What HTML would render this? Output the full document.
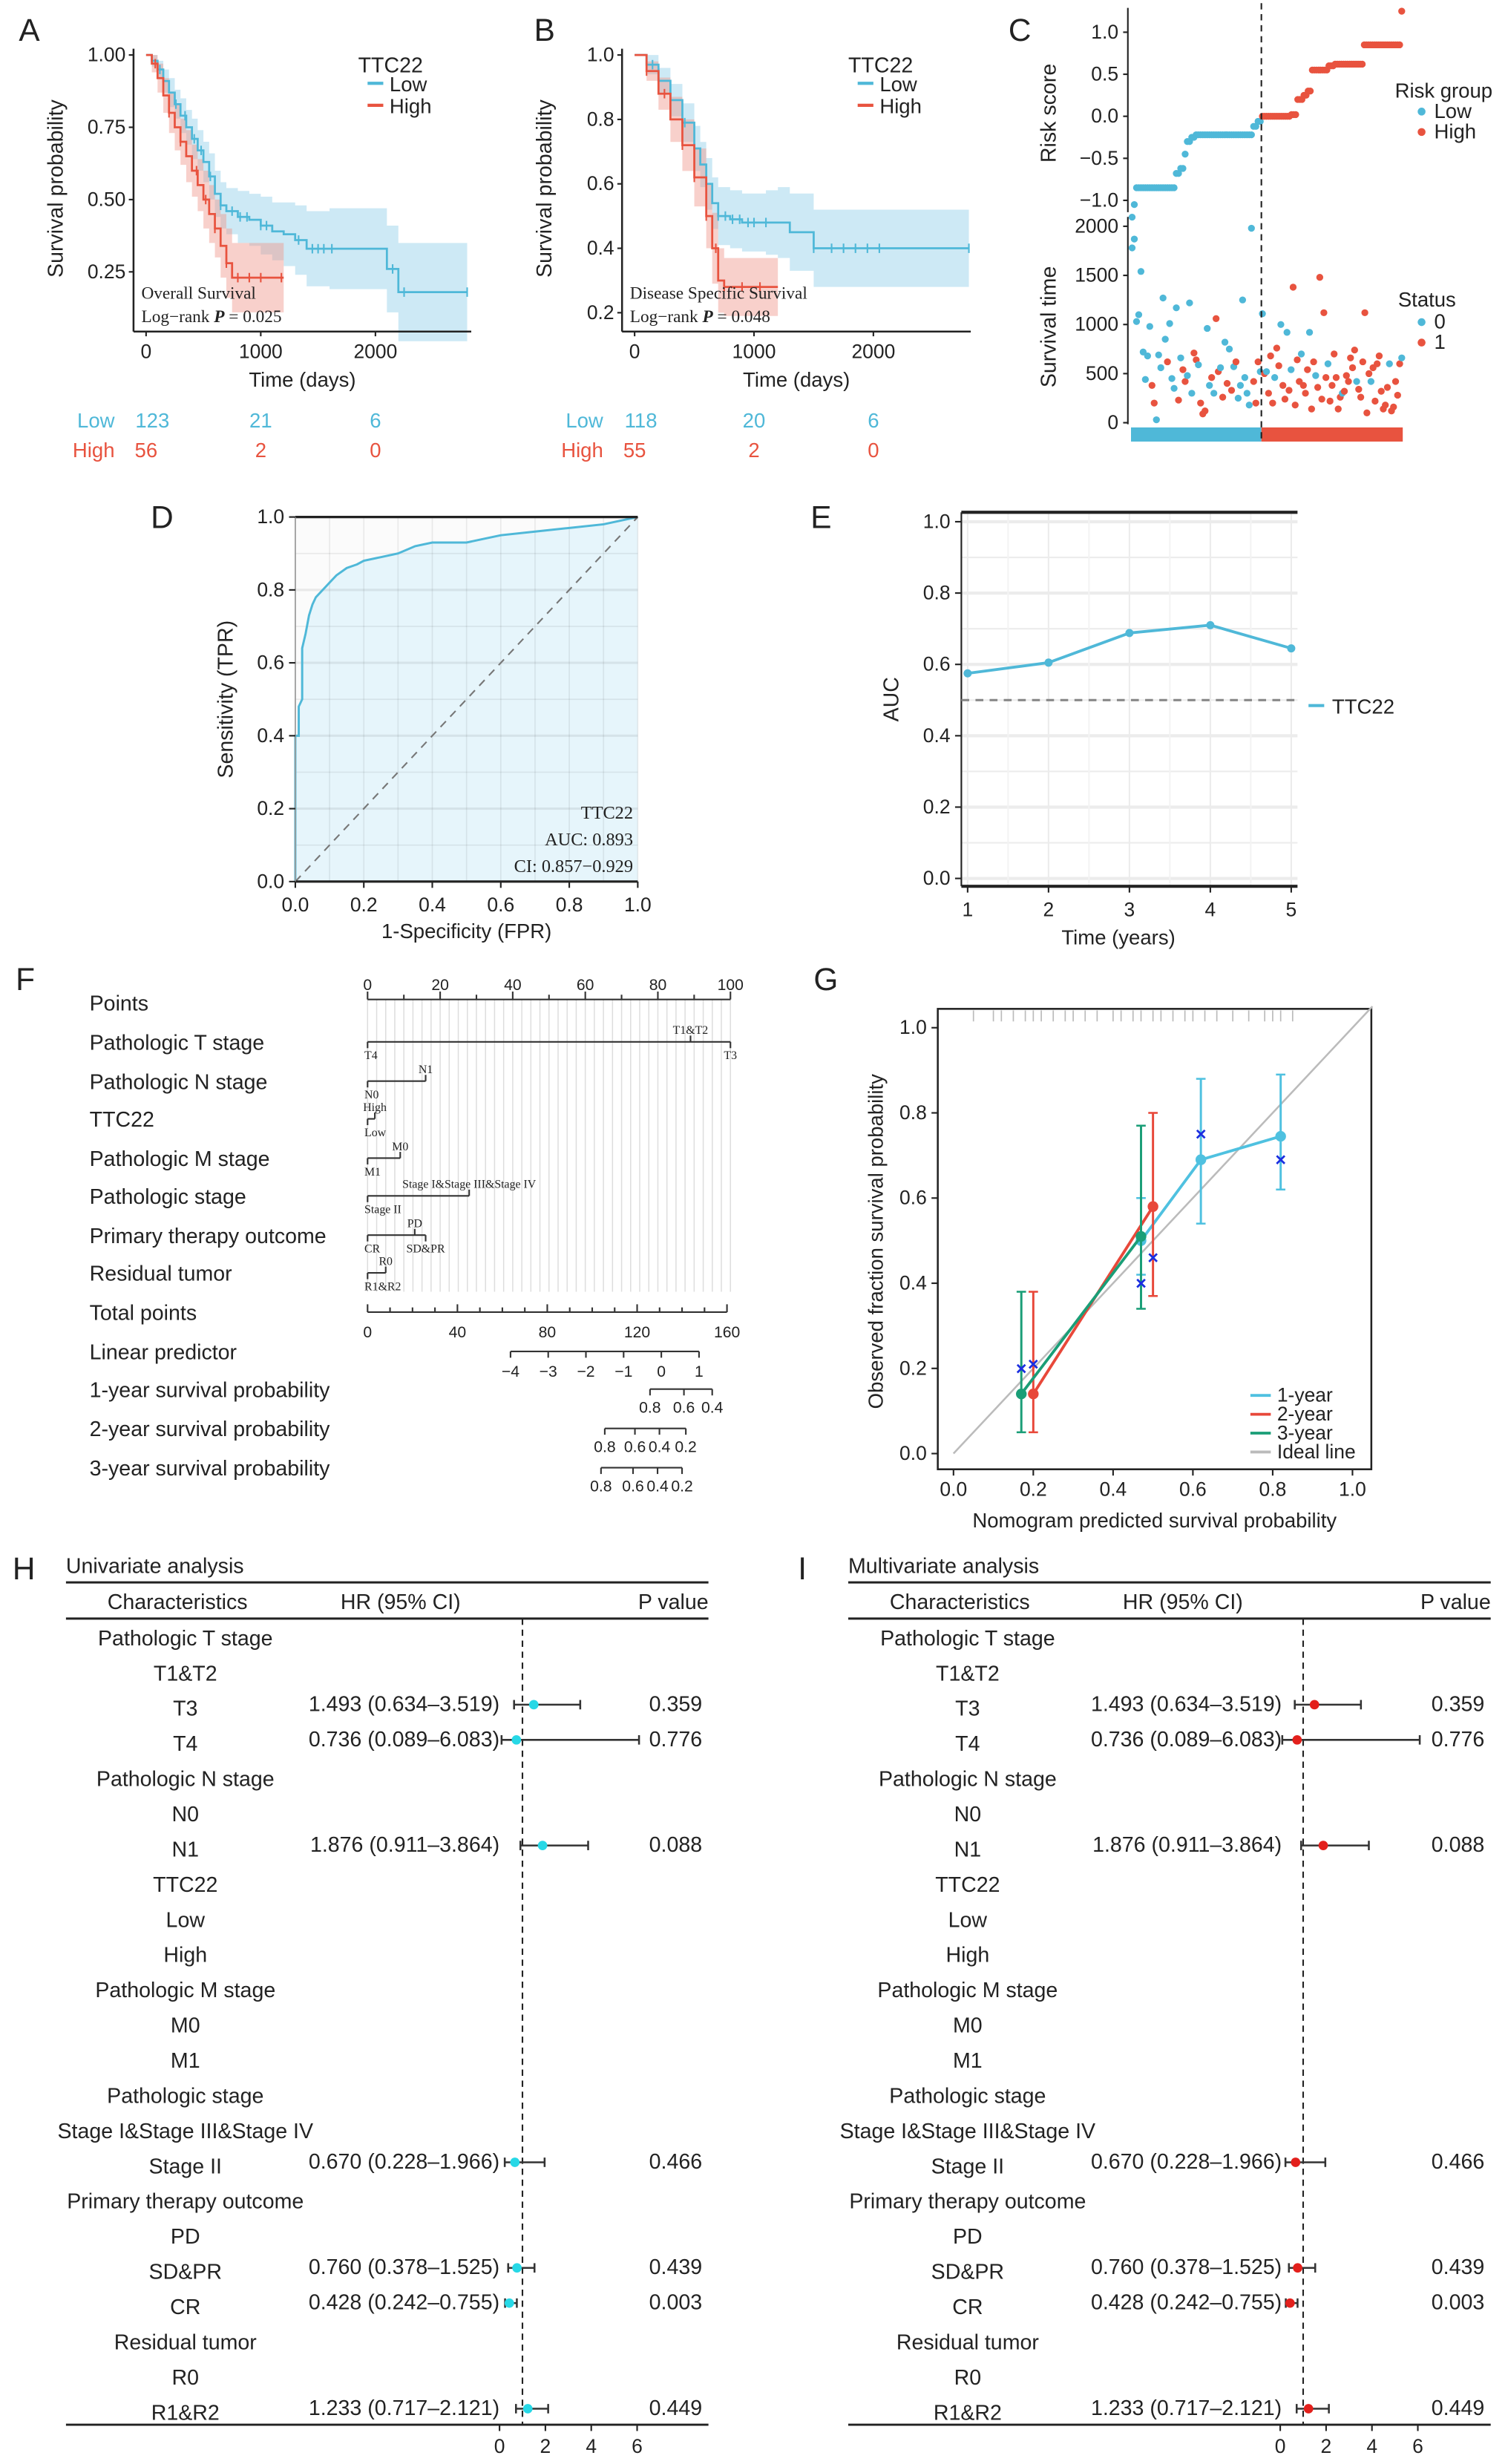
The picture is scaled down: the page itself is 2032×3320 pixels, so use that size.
<!DOCTYPE html>
<html><head><meta charset="utf-8">
<style>
html,body{margin:0;padding:0;background:#fff;}
svg{display:block;}
text{font-family:"Liberation Sans",sans-serif;}
.serif{font-family:"Liberation Serif",serif;}
</style></head>
<body>
<svg id="fig" xmlns="http://www.w3.org/2000/svg" width="2032" height="3320" viewBox="0 0 960 1568" preserveAspectRatio="none"></svg>
<script>
// ---------- DATA ----------
// Panel A (overall survival)
const kmA_lowT=[0,50,100,150,200,250,300,350,400,450,500,550,600,650,700,800,900,1000,1100,1200,1300,1400,1600,1800,2100,2200,2800];
const kmA_lowS=[1,.98,.95,.91,.87,.83,.79,.75,.71,.67,.63,.58,.52,.48,.46,.44,.43,.41,.39,.38,.36,.33,.33,.33,.26,.18,.18];
const kmA_lowH=[0,.02,.03,.04,.05,.05,.06,.06,.07,.07,.07,.08,.08,.08,.08,.09,.09,.1,.1,.11,.12,.13,.14,.14,.15,.17,.17];
const kmA_highT=[0,50,100,150,200,250,300,350,400,450,500,550,600,650,700,750,1200];
const kmA_highS=[1,.97,.92,.86,.8,.75,.7,.65,.6,.55,.5,.45,.4,.34,.28,.23,.23];
const kmA_highH=[0,.03,.05,.06,.07,.08,.08,.09,.09,.09,.1,.1,.1,.11,.12,.12,.12];
const cenA_low=[120,260,340,420,480,560,650,750,820,880,1000,1050,1330,1450,1500,1550,1620,2150,2250,2800];
const cenA_high=[80,200,300,440,520,600,700,800,900,1000,1180];
// Panel B (disease specific survival)
const kmB_lowT=[0,100,200,300,400,500,550,600,650,700,800,900,1000,1100,1200,1300,1500,2800];
const kmB_lowS=[1,.97,.92,.86,.79,.71,.66,.6,.54,.5,.49,.48,.48,.48,.48,.45,.40,.40];
const kmB_lowH=[0,.03,.04,.05,.06,.07,.07,.08,.08,.09,.09,.09,.09,.1,.11,.12,.12,.12];
const kmB_highT=[0,100,200,300,400,500,600,650,700,750,1200];
const kmB_highS=[1,.95,.88,.8,.72,.62,.5,.4,.3,.28,.28];
const kmB_highH=[0,.03,.05,.07,.08,.09,.1,.11,.1,.09,.09];
const cenB_low=[150,300,420,500,600,700,760,820,880,950,1000,1100,1500,1650,1750,1850,1950,2050,2800];
const cenB_high=[100,250,400,500,600,680,750,900,1050];
// Panel C risk score
const riskLowVals=[-1.2,-1.05,-0.85,-0.68,-0.62,-0.45,-0.3,-0.25,-0.22,-0.12,-0.06];
const riskLowCounts=[1,1,18,2,2,1,2,2,26,2,2];
const riskHighVals=[0.0,0.02,0.2,0.25,0.3,0.55,0.6,0.62,0.85,1.25];
const riskHighCounts=[14,3,3,2,2,8,3,14,18,1];
const survLowTimes=[1780,1870,1030,1100,1540,720,440,680,980,380,200,30,690,560,1270,850,620,1010,450,350,1170,230,660,540,420,480,1220,300,710,640,590,200,90,120,960,380,460,300,1060,520,560,260,820,400,750,330,570,620,250,380,1250,460,300,180,1980,420,200,620,520];
const survLowStatus=[0,0,0,0,0,0,0,0,0,1,1,0,0,0,0,0,1,0,0,0,0,1,0,1,1,0,0,0,1,1,0,1,1,1,0,0,1,0,1,1,0,1,0,1,0,1,0,1,0,0,0,0,0,0,0,1,1,1,0];
const survHighTimes=[1110,500,520,300,680,200,460,760,580,1000,380,240,920,330,540,1380,180,640,420,700,380,300,540,920,140,620,480,360,1480,240,1120,460,600,220,380,700,460,140,260,300,320,480,420,660,560,740,420,340,260,620,1120,100,500,420,560,220,600,680,320,140,180,360,600,120,160,420,280,600,660];
const survHighStatus=[0,1,0,1,1,1,0,1,1,0,1,1,0,1,0,1,1,1,1,0,1,1,1,0,1,1,0,1,1,1,1,1,0,1,1,1,1,1,1,0,1,1,1,1,1,1,0,1,1,1,1,1,1,0,1,1,1,1,1,1,1,1,0,1,1,1,1,1,0];
// Panel D ROC
const rocFpr=[0,0,0.01,0.01,0.02,0.02,0.03,0.04,0.05,0.06,0.08,0.1,0.12,0.15,0.18,0.2,0.25,0.3,0.35,0.4,0.5,0.55,0.6,0.7,0.8,0.9,1];
const rocTpr=[0,0.4,0.4,0.48,0.5,0.64,0.68,0.73,0.76,0.78,0.8,0.82,0.84,0.86,0.87,0.88,0.89,0.9,0.92,0.93,0.93,0.94,0.95,0.96,0.97,0.98,1];
// Panel E time-dependent AUC
const aucYears=[1,2,3,4,5];
const aucVals=[0.575,0.605,0.688,0.71,0.645];
// Panel G calibration
const cal1x=[0.47,0.62,0.82], cal1y=[0.50,0.69,0.745], cal1lo=[0.42,0.54,0.62], cal1hi=[0.60,0.88,0.89];
const cal2x=[0.20,0.50], cal2y=[0.14,0.58], cal2lo=[0.05,0.37], cal2hi=[0.38,0.80];
const cal3x=[0.17,0.47], cal3y=[0.14,0.51], cal3lo=[0.05,0.34], cal3hi=[0.38,0.77];
const calXx=[0.17,0.20,0.47,0.50,0.62,0.82], calXy=[0.20,0.21,0.40,0.46,0.75,0.69];
const rugX=[0.05,0.1,0.12,0.15,0.18,0.2,0.22,0.25,0.28,0.3,0.33,0.36,0.4,0.42,0.45,0.47,0.5,0.52,0.55,0.58,0.6,0.63,0.66,0.7,0.74,0.78,0.8,0.82,0.85];
// Forest plots
const forestLabels=["Pathologic T stage","T1&T2","T3","T4","Pathologic N stage","N0","N1","TTC22","Low","High","Pathologic M stage","M0","M1","Pathologic stage","Stage I&Stage III&Stage IV","Stage II","Primary therapy outcome","PD","SD&PR","CR","Residual tumor","R0","R1&R2"];
const forestHR=[null,null,1.493,0.736,null,null,1.876,null,null,null,null,null,null,null,null,0.670,null,null,0.760,0.428,null,null,1.233];
const forestLo=[null,null,0.634,0.089,null,null,0.911,null,null,null,null,null,null,null,null,0.228,null,null,0.378,0.242,null,null,0.717];
const forestHi=[null,null,3.519,6.083,null,null,3.864,null,null,null,null,null,null,null,null,1.966,null,null,1.525,0.755,null,null,2.121];
const forestP=[null,null,"0.359","0.776",null,null,"0.088",null,null,null,null,null,null,null,null,"0.466",null,null,"0.439","0.003",null,null,"0.449"];
const forestTicks=[0,2,4,6];

// ---------- HELPERS ----------
const NS='http://www.w3.org/2000/svg';
const svg=document.getElementById('fig');
function mk(tag,attrs,name,parent){
  const el=document.createElementNS(NS,tag);
  for(const k in attrs) el.setAttribute(k,attrs[k]);
  
  
  (parent||svg).appendChild(el);
  return el;
}
function T(x,y,s,size,name,opt){
  opt=opt||{};
  const a={x:x,y:y,'font-size':size,fill:opt.fill||'#222'};
  if(opt.anchor) a['text-anchor']=opt.anchor;
  if(opt.cls) a['class']=opt.cls;
  if(opt.rot) a.transform='rotate(-90 '+x+' '+y+')';
  if(opt.weight) a['font-weight']=opt.weight;
  if(opt.style) a['font-style']=opt.style;
  const el=mk('text',a,name);
  el.textContent=s;
  return el;
}
function L(x1,y1,x2,y2,stroke,w,name,dash){
  const a={x1:x1,y1:y1,x2:x2,y2:y2,stroke:stroke,'stroke-width':w};
  if(dash) a['stroke-dasharray']=dash;
  return mk('line',a,name);
}
const BLUE='#4fb8d8', RED='#e8533f';

// ---------- KM panels ----------
function kmPanel(p){
  const X=p.X,Y=p.Y;
  [[p.lowT,p.lowS,p.lowH,'#cde9f5','low'],[p.highT,p.highS,p.highH,'rgba(240,150,140,0.45)','high']].forEach(c=>{
    const t=c[0],s=c[1],h=c[2];
    let up='',dn='';
    for(let i=0;i<t.length;i++){
      const tn=i<t.length-1?t[i+1]:t[i];
      up+=(i?'L':'M')+X(t[i])+' '+Y(Math.min(1,s[i]+h[i]))+'L'+X(tn)+' '+Y(Math.min(1,s[i]+h[i]));
    }
    for(let i=t.length-1;i>=0;i--){
      const tn=i<t.length-1?t[i+1]:t[i];
      dn+='L'+X(tn)+' '+Y(s[i]-h[i])+'L'+X(t[i])+' '+Y(s[i]-h[i]);
    }
    mk('path',{d:up+dn+'Z',fill:c[3],stroke:'none'},p.id+'-ci-band-'+c[4]);
  });
  [[p.lowT,p.lowS,BLUE,'low',p.cenLow],[p.highT,p.highS,RED,'high',p.cenHigh]].forEach(c=>{
    const t=c[0],s=c[1];
    let d='M'+X(t[0])+' '+Y(s[0]);
    for(let i=1;i<t.length;i++) d+='H'+X(t[i])+'V'+Y(s[i]);
    mk('path',{d:d,fill:'none',stroke:c[2],'stroke-width':1.3},p.id+'-km-curve-'+c[3]);
    c[4].forEach(ct=>{
      let sv=s[0];
      for(let i=0;i<t.length;i++) if(t[i]<=ct) sv=s[i];
      L(X(ct),Y(sv)-3,X(ct),Y(sv)+3,c[2],1,p.id+'-censor-'+c[3]);
    });
  });
  L(p.ax,p.yTop-4,p.ax,p.xAxY,'#222',1.2,p.id+'-y-axis');
  L(p.ax,p.xAxY,p.axEnd,p.xAxY,'#222',1.2,p.id+'-x-axis');
  p.yt.forEach((v,i)=>{L(p.ax-3,Y(v),p.ax,Y(v),'#222',1,p.id+'-y-tick');T(p.ax-5,Y(v)+4,p.ytl[i],12.5,p.id+'-y-tick-label',{anchor:'end'});});
  [0,1000,2000].forEach(v=>{L(X(v),p.xAxY,X(v),p.xAxY+3,'#222',1,p.id+'-x-tick');T(X(v),p.xAxY+17,String(v),12.5,p.id+'-x-tick-label',{anchor:'middle'});});
  T((p.ax+p.axEnd)/2,p.xAxY+35,'Time (days)',13,p.id+'-x-axis-title',{anchor:'middle'});
  T(p.ax-45,120,'Survival probability',13.5,p.id+'-y-axis-title',{anchor:'middle',rot:1});
  T(p.legX,46,'TTC22',13.5,p.id+'-legend-title');
  L(p.legX+6,53,p.legX+16,53,BLUE,2,p.id+'-legend-key-low');T(p.legX+20,58,'Low',13,p.id+'-legend-low');
  L(p.legX+6,67,p.legX+16,67,RED,2,p.id+'-legend-key-high');T(p.legX+20,72,'High',13,p.id+'-legend-high');
  T(p.ax+5,190,p.title,11,p.id+'-annotation-title',{cls:'serif'});
  const g=T(p.ax+5,205,'Log\u2212rank ',11,p.id+'-annotation-pvalue',{cls:'serif'});
  const ts=document.createElementNS(NS,'tspan');ts.setAttribute('font-style','italic');ts.setAttribute('font-weight','bold');ts.textContent='P';g.appendChild(ts);
  g.appendChild(document.createTextNode(' = '+p.pval));
  T(p.ax-12,272,'Low',13,p.id+'-risk-table-low-label',{anchor:'end',fill:BLUE});
  T(p.ax-12,291,'High',13,p.id+'-risk-table-high-label',{anchor:'end',fill:RED});
  [0,1000,2000].forEach((v,i)=>{
    T(X(v)+(i==0?4:0),272,p.nLow[i],13,p.id+'-risk-table-low-n',{anchor:'middle',fill:BLUE});
    T(X(v),291,p.nHigh[i],13,p.id+'-risk-table-high-n',{anchor:'middle',fill:RED});
  });
}
T(12,26,'A',20,'panel-label-a');
kmPanel({id:'panel-a',X:t=>93+t*0.073,Y:s=>219-s*184,lowT:kmA_lowT,lowS:kmA_lowS,lowH:kmA_lowH,highT:kmA_highT,highS:kmA_highS,highH:kmA_highH,cenLow:cenA_low,cenHigh:cenA_high,
  ax:85,axEnd:300,xAxY:211,yTop:35,yt:[1,.75,.5,.25],ytl:['1.00','0.75','0.50','0.25'],legX:228,title:'Overall Survival',pval:'0.025',nLow:['123','21','6'],nHigh:['56','2','0']});
T(340,26,'B',20,'panel-label-b');
kmPanel({id:'panel-b',X:t=>404+t*0.076,Y:s=>240-s*205,lowT:kmB_lowT,lowS:kmB_lowS,lowH:kmB_lowH,highT:kmB_highT,highS:kmB_highS,highH:kmB_highH,cenLow:cenB_low,cenHigh:cenB_high,
  ax:396,axEnd:618,xAxY:211,yTop:35,yt:[1,.8,.6,.4,.2],ytl:['1.0','0.8','0.6','0.4','0.2'],legX:540,title:'Disease Specific Survival',pval:'0.048',nLow:['118','20','6'],nHigh:['55','2','0']});

// ---------- Panel C ----------
T(642,26,'C',20,'panel-label-c');
(function(){
  const yR=v=>74-v*53.5, yS=t=>269-t*0.0625;
  const low=[],high=[];
  riskLowVals.forEach((v,i)=>{for(let k=0;k<riskLowCounts[i];k++) low.push(v);});
  riskHighVals.forEach((v,i)=>{for(let k=0;k<riskHighCounts[i];k++) high.push(v);});
  const xL=i=>720+(i+0.5)*83/low.length, xH=i=>803+(i+0.5)*90/high.length;
  L(718,5,718,135,'#222',1,'risk-score-y-axis');
  [1,.5,0,-.5,-1].forEach((v,i)=>{L(715,yR(v),718,yR(v),'#222',1,'risk-y-tick');T(712,yR(v)+4,['1.0','0.5','0.0','\u22120.5','\u22121.0'][i],12.5,'risk-y-tick-label',{anchor:'end'});});
  T(672,72,'Risk score',13.5,'risk-score-y-title',{anchor:'middle',rot:1});
  low.forEach((v,i)=>mk('circle',{cx:xL(i),cy:yR(v),r:2.2,fill:BLUE},'risk-point-low'));
  high.forEach((v,i)=>mk('circle',{cx:xH(i),cy:yR(v),r:2.2,fill:RED},'risk-point-high'));
  L(718,138,718,270,'#222',1,'survival-time-y-axis');
  [2000,1500,1000,500,0].forEach(v=>{L(715,yS(v),718,yS(v),'#222',1,'surv-y-tick');T(712,yS(v)+4,String(v),12.5,'surv-y-tick-label',{anchor:'end'});});
  T(672,208,'Survival time',13.5,'survival-time-y-title',{anchor:'middle',rot:1});
  survLowTimes.forEach((t,i)=>{const n=survLowTimes.length;mk('circle',{cx:720+(i+0.5)*83/n,cy:yS(t),r:2.2,fill:survLowStatus[i]?RED:BLUE},'survival-point');});
  survHighTimes.forEach((t,i)=>{const n=survHighTimes.length;mk('circle',{cx:803+(i+0.5)*90/n,cy:yS(t),r:2.2,fill:survHighStatus[i]?RED:BLUE},'survival-point');});
  mk('rect',{x:720,y:272,width:83,height:9,fill:BLUE},'risk-group-bar-low');
  mk('rect',{x:803,y:272,width:90,height:9,fill:RED},'risk-group-bar-high');
  L(803,2,803,281,'#222',1,'risk-cutoff-line','4,3');
  T(888,62,'Risk group',13,'risk-legend-title');
  mk('circle',{cx:905,cy:71,r:2.5,fill:BLUE},'risk-legend-key-low');T(913,75,'Low',13,'risk-legend-low');
  mk('circle',{cx:905,cy:84,r:2.5,fill:RED},'risk-legend-key-high');T(913,88,'High',13,'risk-legend-high');
  T(890,195,'Status',13,'status-legend-title');
  mk('circle',{cx:905,cy:205,r:2.5,fill:BLUE},'status-legend-key-0');T(913,209,'0',13,'status-legend-0');
  mk('circle',{cx:905,cy:218,r:2.5,fill:RED},'status-legend-key-1');T(913,222,'1',13,'status-legend-1');
})();

// ---------- Panel D ROC ----------
T(96,336,'D',20,'panel-label-d');
(function(){
  const X=v=>188+v*218, Y=v=>561-v*232;
  mk('rect',{x:188,y:329,width:218,height:232,fill:'#fbfbfb'},'roc-background');
  let d='M'+X(rocFpr[0])+' '+Y(rocTpr[0]);
  for(let i=1;i<rocFpr.length;i++) d+='L'+X(rocFpr[i])+' '+Y(rocTpr[i]);
  mk('path',{d:d+'L'+X(1)+' '+Y(0)+'Z',fill:'#e6f5fb'},'roc-area');
  for(let v=0;v<=1.001;v+=0.1){L(X(v),329,X(v),561,'rgba(0,0,0,0.07)',0.8,'roc-grid-v');L(188,Y(v),406,Y(v),'rgba(0,0,0,0.07)',(Math.round(v*10)%2==0)?1.5:0.8,'roc-grid-h');}
  mk('path',{d:d,fill:'none',stroke:BLUE,'stroke-width':1.4},'roc-curve');
  L(X(0),Y(0),X(1),Y(1),'#777',1,'roc-diagonal','5,4');
  L(188,329,406,329,'#222',1.5,'roc-top-border');L(188,561,406,561,'#222',1.5,'roc-x-axis');
  L(188,329,188,561,'#999',0.8,'roc-y-axis');
  [0,.2,.4,.6,.8,1].forEach(v=>{L(X(v),561,X(v),565,'#222',1,'roc-x-tick');T(X(v),580,v.toFixed(1),12.5,'roc-x-tick-label',{anchor:'middle'});
    L(184,Y(v),188,Y(v),'#222',1,'roc-y-tick');T(181,Y(v)+4,v.toFixed(1),12.5,'roc-y-tick-label',{anchor:'end'});});
  T(297,597,'1-Specificity (FPR)',13,'roc-x-axis-title',{anchor:'middle'});
  T(148,445,'Sensitivity (TPR)',13.5,'roc-y-axis-title',{anchor:'middle',rot:1});
  T(403,521,'TTC22',11.5,'roc-annotation-name',{anchor:'end',cls:'serif'});
  T(403,538,'AUC: 0.893',11.5,'roc-annotation-auc',{anchor:'end',cls:'serif'});
  T(403,555,'CI: 0.857\u22120.929',11.5,'roc-annotation-ci',{anchor:'end',cls:'serif'});
})();

// ---------- Panel E ----------
T(516,336,'E',20,'panel-label-e');
(function(){
  const X=t=>616+(t-1)*51.5, Y=v=>559-v*227;
  for(let v=0;v<=1.001;v+=0.1) L(612,Y(v),826,Y(v),'#ececec',(Math.round(v*10)%2==0)?2:1,'auc-grid-h');
  aucYears.forEach(t=>L(X(t),326,X(t),564,'#ececec',1,'auc-grid-v'));
  [1.5,2.5,3.5,4.5].forEach(t=>L(X(t),326,X(t),564,'#f3f3f3',1,'auc-grid-v-minor'));
  L(612,326,826,326,'#222',2,'auc-top-border');L(612,564,826,564,'#222',2,'auc-x-axis');
  L(612,326,612,564,'#222',1,'auc-y-axis');
  [0,.2,.4,.6,.8,1].forEach(v=>{L(608,Y(v),612,Y(v),'#222',1,'auc-y-tick');T(605,Y(v)+4,v.toFixed(1),12.5,'auc-y-tick-label',{anchor:'end'});});
  aucYears.forEach(t=>{L(X(t),564,X(t),568,'#222',1,'auc-x-tick');T(X(t),583,String(t),12.5,'auc-x-tick-label',{anchor:'middle'});});
  L(612,Y(0.5),826,Y(0.5),'#888',1.5,'auc-reference-line','5,4');
  let d='';aucYears.forEach((t,i)=>d+=(i?'L':'M')+X(t)+' '+Y(aucVals[i]));
  mk('path',{d:d,fill:'none',stroke:BLUE,'stroke-width':1.8},'auc-line');
  aucYears.forEach((t,i)=>mk('circle',{cx:X(t),cy:Y(aucVals[i]),r:2.6,fill:BLUE},'auc-point'));
  T(712,601,'Time (years)',13,'auc-x-axis-title',{anchor:'middle'});
  T(572,445,'AUC',13.5,'auc-y-axis-title',{anchor:'middle',rot:1});
  L(833,449,843,449,BLUE,2,'auc-legend-key');T(848,454,'TTC22',13,'auc-legend-label');
})();

// ---------- Panel F nomogram ----------
T(10,630,'F',20,'panel-label-f');
(function(){
  const xP=p=>234+p*2.31;
  const rowsY=[638,663,688,712,737,761,786,810,835,860,884,909,934];
  const names=['Points','Pathologic T stage','Pathologic N stage','TTC22','Pathologic M stage','Pathologic stage','Primary therapy outcome','Residual tumor','Total points','Linear predictor','1-year survival probability','2-year survival probability','3-year survival probability'];
  names.forEach((n,i)=>T(57,rowsY[i]+5,n,13.5,'nomogram-row-label'));
  for(let p=0;p<=100;p+=2.5) L(xP(p),636,xP(p),822,'#ddd',0.7,'nomogram-grid-line');
  L(xP(0),636,xP(100),636,'#333',1,'points-axis');
  for(let p=0;p<=100;p+=10) L(xP(p),636,xP(p),(p%20==0)?631:633,'#333',1,'points-axis-tick');
  [0,20,40,60,80,100].forEach(p=>T(xP(p),630,String(p),10,'points-axis-label',{anchor:'middle'}));
  const facts=[
    {y:663,lv:['T4','T1&T2','T3'],pt:[0,89,100],up:[0,1,0]},
    {y:688,lv:['N0','N1'],pt:[0,16],up:[0,1]},
    {y:712,lv:['Low','High'],pt:[0,2],up:[0,1]},
    {y:737,lv:['M1','M0'],pt:[0,9],up:[0,1]},
    {y:761,lv:['Stage II','Stage I&Stage III&Stage IV'],pt:[0,28],up:[0,1]},
    {y:786,lv:['CR','PD','SD&PR'],pt:[0,13,16],up:[0,1,0]},
    {y:810,lv:['R1&R2','R0'],pt:[0,5],up:[0,1]}];
  facts.forEach(f=>{
    const mx=Math.max.apply(null,f.pt);
    L(xP(0),f.y,xP(mx),f.y,'#333',1,'nomogram-factor-axis');
    f.pt.forEach((p,i)=>{L(xP(p),f.y,xP(p),f.up[i]?f.y-4:f.y+4,'#333',1,'nomogram-factor-tick');
      T(xP(p)+(i==0?-2:0),f.up[i]?f.y-5:f.y+11,f.lv[i],7.5,'nomogram-level-label',{anchor:i==0?'start':'middle',cls:'serif'});});
  });
  const xT=t=>234+t*1.43;
  L(xT(0),835,xT(160),835,'#333',1,'total-points-axis');
  for(let t=0;t<=160;t+=10) L(xT(t),835,xT(t),(t%40==0)?830:832,'#333',1,'total-points-tick');
  [0,40,80,120,160].forEach(t=>T(xT(t),851,String(t),10,'total-points-label',{anchor:'middle'}));
  const xL=v=>421+v*24;
  L(xL(-4),860,xL(1),860,'#333',1,'linear-predictor-axis');
  [-4,-3,-2,-1,0,1].forEach(v=>{L(xL(v),860,xL(v),864,'#333',1,'lp-tick');T(xL(v),876,v<0?'\u2212'+(-v):String(v),10,'lp-label',{anchor:'middle'});});
  const probs=[{y:884,lab:['0.8','0.6','0.4'],lp:[-0.3,0.6,1.35]},{y:909,lab:['0.8','0.6','0.4','0.2'],lp:[-1.5,-0.7,-0.05,0.65]},{y:934,lab:['0.8','0.6','0.4','0.2'],lp:[-1.6,-0.75,-0.1,0.55]}];
  probs.forEach(p=>{
    L(xL(p.lp[0]),p.y,xL(p.lp[p.lp.length-1]),p.y,'#333',1,'survival-prob-axis');
    p.lp.forEach((v,i)=>{L(xL(v),p.y,xL(v),p.y+4,'#333',1,'survival-prob-tick');T(xL(v),p.y+15,p.lab[i],10,'survival-prob-label',{anchor:'middle'});});
  });
})();

// ---------- Panel G calibration ----------
T(518,630,'G',20,'panel-label-g');
(function(){
  const X=v=>607+v*254, Y=v=>925-v*271;
  mk('rect',{x:597,y:642,width:276,height:293,fill:'none',stroke:'#222','stroke-width':1.2},'calibration-frame');
  rugX.forEach(v=>L(X(v),643,X(v),650,'#bbb',0.8,'calibration-rug'));
  L(X(0),Y(0),X(1.05),Y(1.05),'#bbb',1.2,'ideal-line');
  [[cal1x,cal1y,cal1lo,cal1hi,'#4fc1e0','1-year'],[cal2x,cal2y,cal2lo,cal2hi,'#e8483a','2-year'],[cal3x,cal3y,cal3lo,cal3hi,'#1a9e77','3-year']].forEach(s=>{
    let d='';
    s[0].forEach((x,i)=>{d+=(i?'L':'M')+X(x)+' '+Y(s[1][i]);
      L(X(x),Y(s[2][i]),X(x),Y(s[3][i]),s[4],1.4,'calibration-errorbar-'+s[5]);
      L(X(x)-3,Y(s[2][i]),X(x)+3,Y(s[2][i]),s[4],1.2,'calibration-errorcap');
      L(X(x)-3,Y(s[3][i]),X(x)+3,Y(s[3][i]),s[4],1.2,'calibration-errorcap');});
    mk('path',{d:d,fill:'none',stroke:s[4],'stroke-width':1.8},'calibration-line-'+s[5]);
    s[0].forEach((x,i)=>mk('circle',{cx:X(x),cy:Y(s[1][i]),r:3.4,fill:s[4]},'calibration-point-'+s[5]));
  });
  calXx.forEach((x,i)=>T(X(x),Y(calXy[i])+4,'\u00d7',12,'calibration-corrected-mark',{anchor:'middle',fill:'#1a2ee0',weight:'bold'}));
  [0,.2,.4,.6,.8,1].forEach(v=>{L(X(v),935,X(v),939,'#222',1,'cal-x-tick');T(X(v),952,v.toFixed(1),12.5,'cal-x-tick-label',{anchor:'middle'});
    L(593,Y(v),597,Y(v),'#222',1,'cal-y-tick');T(590,Y(v)+4,v.toFixed(1),12.5,'cal-y-tick-label',{anchor:'end'});});
  T(735,972,'Nomogram predicted survival probability',13,'cal-x-axis-title',{anchor:'middle'});
  T(562,790,'Observed fraction survival probability',13,'cal-y-axis-title',{anchor:'middle',rot:1});
  [['1-year','#4fc1e0'],['2-year','#e8483a'],['3-year','#1a9e77'],['Ideal line','#bbb']].forEach((e,i)=>{
    L(796,888+i*12,809,888+i*12,e[1],1.8,'cal-legend-key');T(813,892+i*12,e[0],12.5,'cal-legend-label');});
})();

// ---------- Forest plots ----------
function forest(id,ox,title,dot,axisX0){
  const rowY=i=>1042+i*22.4;
  const X=v=>axisX0+v*14.6;
  T(ox,1001,title,13.5,id+'-title');
  L(ox,1007,ox+409,1007,'#222',1.4,id+'-top-rule');
  T(ox+71,1024,'Characteristics',13.5,id+'-header-characteristics',{anchor:'middle'});
  T(ox+213,1024,'HR (95% CI)',13.5,id+'-header-hr',{anchor:'middle'});
  T(ox+409,1024,'P value',13.5,id+'-header-p',{anchor:'end'});
  L(ox,1030,ox+409,1030,'#222',1.4,id+'-header-rule');
  L(X(1),1030,X(1),1543,'#222',1,id+'-reference-line','4,3');
  forestLabels.forEach((lab,i)=>{
    T(ox+76,rowY(i)+5,lab,13.5,id+'-row-label',{anchor:'middle'});
    if(forestHR[i]!==null){
      const y=rowY(i)-2;
      T(ox+276,y+4,forestHR[i].toFixed(3)+' ('+forestLo[i].toFixed(3)+'\u2013'+forestHi[i].toFixed(3)+')',13.5,id+'-hr-text',{anchor:'end'});
      T(ox+405,y+4,forestP[i],13.5,id+'-p-value',{anchor:'end'});
      L(X(forestLo[i]),y,X(forestHi[i]),y,'#333',1.2,id+'-ci-whisker');
      L(X(forestLo[i]),y-3,X(forestLo[i]),y+3,'#333',1.2,id+'-ci-cap');
      L(X(forestHi[i]),y-3,X(forestHi[i]),y+3,'#333',1.2,id+'-ci-cap');
      mk('circle',{cx:X(forestHR[i]),cy:y,r:3,fill:dot},id+'-hr-point');
    }
  });
  L(ox,1543,ox+409,1543,'#222',1.4,id+'-bottom-rule');
  forestTicks.forEach(v=>{L(X(v),1543,X(v),1547,'#222',1,id+'-x-tick');T(X(v),1561,String(v),12.5,id+'-x-tick-label',{anchor:'middle'});});
}
T(8,1005,'H',20,'panel-label-h');
forest('univariate',42,'Univariate analysis','#27d8e6',318);
T(508,1005,'I',20,'panel-label-i');
forest('multivariate',540,'Multivariate analysis','#e3201c',815);
</script>
</body></html>
